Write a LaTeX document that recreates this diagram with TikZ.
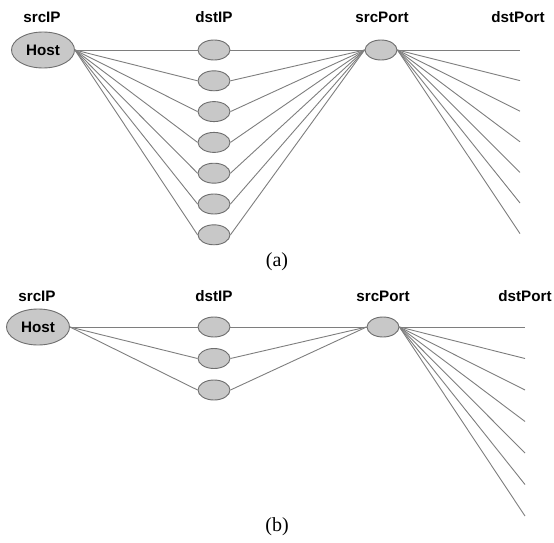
\documentclass[tikz,border=0pt]{standalone}
\usepackage{fontspec}
\setmainfont{Liberation Serif}
\setsansfont{Liberation Sans}
\usetikzlibrary{shapes.geometric}

\definecolor{nodefill}{HTML}{C8C8C8}
\definecolor{nodeline}{HTML}{6E6E6E}
\definecolor{wirecol}{HTML}{7E7E7E}

\begin{document}
\begin{tikzpicture}[x=1pt, y=-1pt,
      hostnode/.style={ellipse, draw=nodeline, fill=nodefill, line width=0.9pt, inner sep=0pt,
                       minimum width=63pt, minimum height=36pt,
                       font=\sffamily\bfseries\fontsize{15.2}{16}\selectfont},
      ipnode/.style={ellipse, draw=nodeline, fill=nodefill, line width=0.9pt, inner sep=0pt,
                     minimum width=32pt, minimum height=20pt},
      wire/.style={draw=wirecol, line width=0.9pt},
      hdr/.style={font=\sffamily\bfseries\fontsize{15.2}{16}\selectfont},
      sublbl/.style={font=\fontsize{20}{22}\selectfont}]

    \useasboundingbox (0,0) rectangle (554,543);

    % ---- Layout ----
    \def\xip{214}      % dstIP column x
    \def\yA{50}        % top row, panel (a)
    \def\yB{327}       % top row, panel (b)

    % ================= panel (a): one host, seven dstIPs =================
    \node[hdr] (hA1) at (42, 17)  {srcIP};
    \node[hdr] (hA2) at (\xip, 17) {dstIP};
    \node[hdr] (hA3) at (382, 17) {srcPort};
    \node[hdr] (hA4) at (518, 17) {dstPort};

    \node[hostnode] (hostA) at (43, \yA) {Host};
    \node[ipnode]   (portA) at (381, \yA) {};
    \foreach \i in {0,...,6}
      \node[ipnode] (ipA\i) at (\xip, \yA+30.8*\i) {};

    % host -> dstIP -> srcPort
    \foreach \i in {0,...,6} {
      \draw[wire] (hostA.east) -- (ipA\i.west);
      \draw[wire] (ipA\i.east) -- (portA.west);
    }

    % srcPort fans out to the dstPorts
    \foreach \i in {0,...,6} {
      \coordinate (dpA\i) at (520, \yA+30.6*\i);
      \draw[wire] (portA.east) -- (dpA\i);
    }

    \node[sublbl] (subA) at (277, 262) {(a)};

    % ================= panel (b): one host, three dstIPs =================
    \node[hdr] (hB1) at (37, 296)  {srcIP};
    \node[hdr] (hB2) at (\xip, 296) {dstIP};
    \node[hdr] (hB3) at (383, 296) {srcPort};
    \node[hdr] (hB4) at (525, 296) {dstPort};

    \node[hostnode] (hostB) at (38, \yB) {Host};
    \node[ipnode]   (portB) at (383, \yB) {};
    \foreach \i in {0,...,2}
      \node[ipnode] (ipB\i) at (\xip, \yB+31.5*\i) {};

    \foreach \i in {0,...,2} {
      \draw[wire] (hostB.east) -- (ipB\i.west);
      \draw[wire] (ipB\i.east) -- (portB.west);
    }

    \foreach \i in {0,...,6} {
      \coordinate (dpB\i) at (525, \yB+31.5*\i);
      \draw[wire] (portB.east) -- (dpB\i);
    }

    \node[sublbl] (subB) at (277, 527) {(b)};

\end{tikzpicture}
\end{document}
